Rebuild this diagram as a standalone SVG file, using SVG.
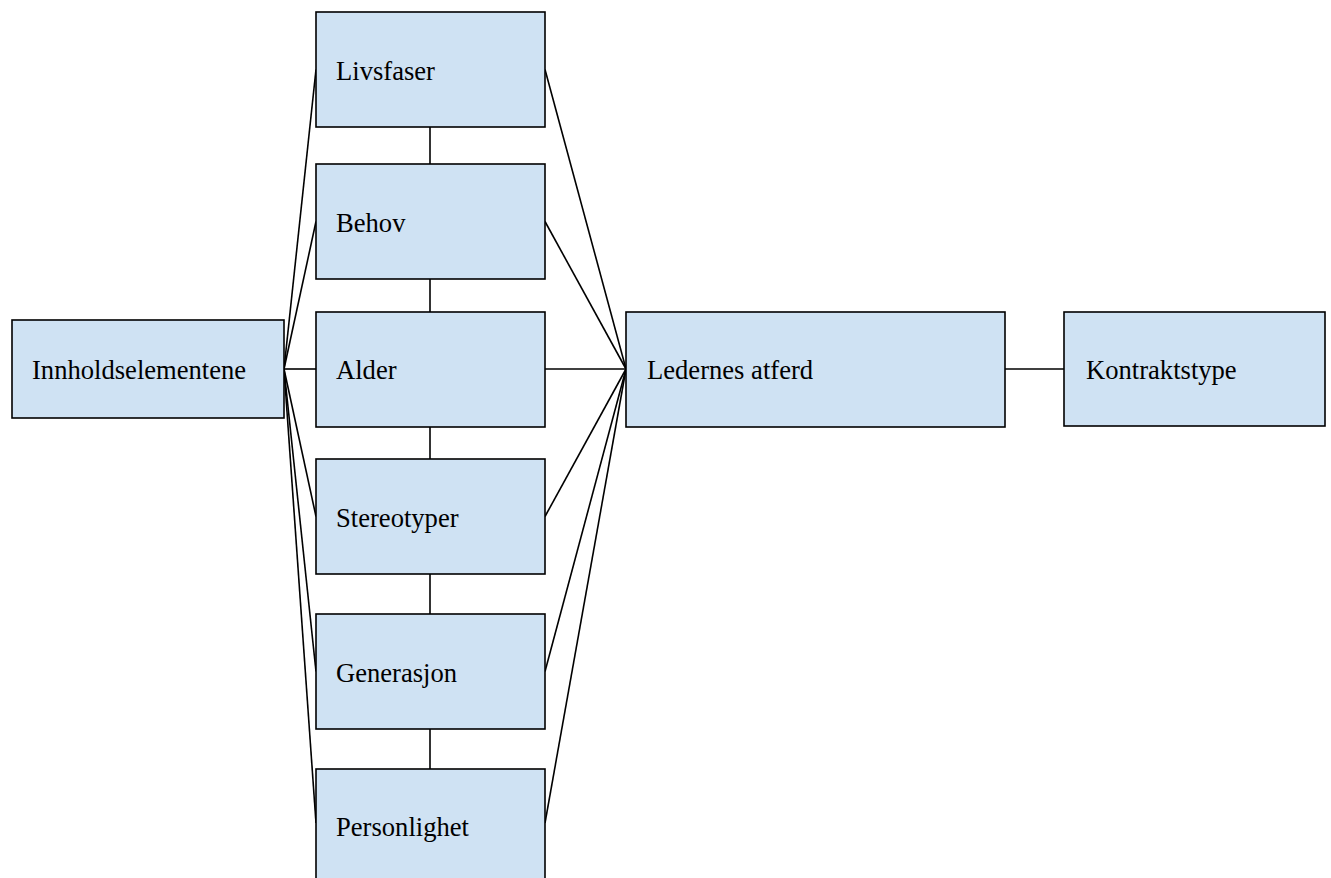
<svg xmlns="http://www.w3.org/2000/svg" width="1331" height="878" viewBox="0 0 1331 878">
<style>
.box{fill:#cfe2f3;stroke:#000;stroke-width:1.6}
.lbl{font-family:"Liberation Serif","Times New Roman",serif;font-size:26.6px;fill:#000}
.c{stroke:#000;stroke-width:1.6;fill:none}
</style>
<rect width="1331" height="878" fill="#fff"/>
<g id="connectors">
<line class="c" x1="284" y1="369" x2="316" y2="69.5"/>
<line class="c" x1="284" y1="369" x2="316" y2="221.5"/>
<line class="c" x1="284" y1="369" x2="316" y2="369"/>
<line class="c" x1="284" y1="369" x2="316" y2="516.5"/>
<line class="c" x1="284" y1="369" x2="316" y2="671.5"/>
<line class="c" x1="284" y1="369" x2="316" y2="823"/>
<line class="c" x1="545" y1="69.5" x2="626" y2="369"/>
<line class="c" x1="545" y1="221.5" x2="626" y2="369"/>
<line class="c" x1="545" y1="369" x2="626" y2="369"/>
<line class="c" x1="545" y1="516.5" x2="626" y2="369"/>
<line class="c" x1="545" y1="671.5" x2="626" y2="369"/>
<line class="c" x1="545" y1="823" x2="626" y2="369"/>
<line class="c" x1="430" y1="127" x2="430" y2="164"/>
<line class="c" x1="430" y1="279" x2="430" y2="312"/>
<line class="c" x1="430" y1="427" x2="430" y2="459"/>
<line class="c" x1="430" y1="574" x2="430" y2="614"/>
<line class="c" x1="430" y1="729" x2="430" y2="769"/>
<line class="c" x1="1005" y1="369" x2="1064" y2="369"/>
</g>
<g id="innholdselementene"><rect class="box" x="12" y="320" width="272" height="98"/><text class="lbl" x="32" y="379">Innholdselementene</text></g>
<g id="livsfaser"><rect class="box" x="316" y="12" width="229" height="115"/><text class="lbl" x="336" y="80">Livsfaser</text></g>
<g id="behov"><rect class="box" x="316" y="164" width="229" height="115"/><text class="lbl" x="336" y="232">Behov</text></g>
<g id="alder"><rect class="box" x="316" y="312" width="229" height="115"/><text class="lbl" x="336" y="379">Alder</text></g>
<g id="stereotyper"><rect class="box" x="316" y="459" width="229" height="115"/><text class="lbl" x="336" y="527">Stereotyper</text></g>
<g id="generasjon"><rect class="box" x="316" y="614" width="229" height="115"/><text class="lbl" x="336" y="682">Generasjon</text></g>
<g id="personlighet"><rect class="box" x="316" y="769" width="229" height="120"/><text class="lbl" x="336" y="836">Personlighet</text></g>
<g id="ledernes-atferd"><rect class="box" x="626" y="312" width="379" height="115"/><text class="lbl" x="647" y="379">Ledernes atferd</text></g>
<g id="kontraktstype"><rect class="box" x="1064" y="312" width="261" height="114"/><text class="lbl" x="1086" y="379">Kontraktstype</text></g>
</svg>
